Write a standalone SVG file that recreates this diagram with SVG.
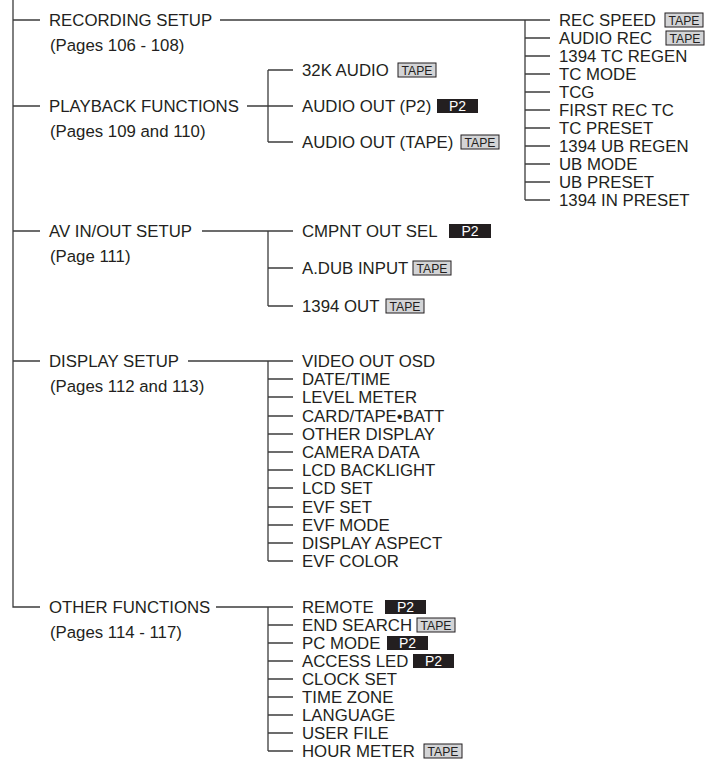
<svg xmlns="http://www.w3.org/2000/svg" width="708" height="761" viewBox="0 0 708 761">
<style>
  .ln{stroke:#3c3c3c;stroke-width:1.3;fill:none}
  .t{font-family:"Liberation Sans",Arial,sans-serif;font-size:16.8px;fill:#231f20}
  .tb{fill:#d3d4d6;stroke:#231f20;stroke-width:1}
  .tt{font-family:"Liberation Sans",Arial,sans-serif;font-size:13px;fill:#231f20;text-anchor:middle}
  .pb{fill:#231f20}
  .pt{font-family:"Liberation Sans",Arial,sans-serif;font-size:14px;fill:#ffffff;text-anchor:middle}
</style>
<rect width="708" height="761" fill="#ffffff"/>

<g id="connectors">
  <path class="ln" d="M13,0 V607 H40"/>
  <path class="ln" d="M13,20 H40 M13,106 H40 M13,231 H40 M13,361 H40"/>
  <path class="ln" d="M220,20 H550 M525,20 V200"/>
  <path class="ln" d="M525,38 H550 M525,56 H550 M525,74 H550 M525,92 H550 M525,110 H550 M525,128 H550 M525,146 H550 M525,164 H550 M525,182 H550 M525,200 H550"/>
  <path class="ln" d="M247,106 H293 M268,70 V142 M268,70 H293 M268,142 H293"/>
  <path class="ln" d="M202,231 H293 M268,231 V306 M268,268 H293 M268,306 H293"/>
  <path class="ln" d="M188,361 H293 M268,361 V561 M268,379 H293 M268,397 H293 M268,416 H293 M268,434 H293 M268,452 H293 M268,470 H293 M268,488 H293 M268,507 H293 M268,525 H293 M268,543 H293 M268,561 H293"/>
  <path class="ln" d="M216,607 H293 M268,607 V751 M268,625 H293 M268,643 H293 M268,661 H293 M268,679 H293 M268,697 H293 M268,715 H293 M268,733 H293 M268,751 H293"/>
</g>

<g id="recording-setup">
  <text class="t" x="49" y="26">RECORDING SETUP</text>
  <text class="t" x="50" y="51">(Pages 106 - 108)</text>
</g>
<g id="recording-items">
  <text class="t" x="559" y="26">REC SPEED</text>
  <rect class="tb" x="665" y="13" width="38" height="14"/><text class="tt" x="684" y="25" textLength="31" lengthAdjust="spacingAndGlyphs">TAPE</text>
  <text class="t" x="559" y="44">AUDIO REC</text>
  <rect class="tb" x="666" y="31" width="38" height="14"/><text class="tt" x="685" y="43" textLength="31" lengthAdjust="spacingAndGlyphs">TAPE</text>
  <text class="t" x="559" y="62">1394 TC REGEN</text>
  <text class="t" x="559" y="80">TC MODE</text>
  <text class="t" x="559" y="98">TCG</text>
  <text class="t" x="559" y="116">FIRST REC TC</text>
  <text class="t" x="559" y="134">TC PRESET</text>
  <text class="t" x="559" y="152">1394 UB REGEN</text>
  <text class="t" x="559" y="170">UB MODE</text>
  <text class="t" x="559" y="188">UB PRESET</text>
  <text class="t" x="559" y="206">1394 IN PRESET</text>
</g>

<g id="playback-functions">
  <text class="t" x="49" y="112">PLAYBACK FUNCTIONS</text>
  <text class="t" x="50" y="137">(Pages 109 and 110)</text>
</g>
<g id="playback-items">
  <text class="t" x="302" y="76">32K AUDIO</text>
  <rect class="tb" x="398" y="63" width="38" height="14"/><text class="tt" x="417" y="75" textLength="31" lengthAdjust="spacingAndGlyphs">TAPE</text>
  <text class="t" x="302" y="112">AUDIO OUT (P2)</text>
  <rect class="pb" x="437" y="99" width="41" height="14"/><text class="pt" x="457.5" y="111.2">P2</text>
  <text class="t" x="302" y="148">AUDIO OUT (TAPE)</text>
  <rect class="tb" x="461" y="135" width="38" height="14"/><text class="tt" x="480" y="147" textLength="31" lengthAdjust="spacingAndGlyphs">TAPE</text>
</g>

<g id="av-inout-setup">
  <text class="t" x="49" y="237">AV IN/OUT SETUP</text>
  <text class="t" x="50" y="262">(Page 111)</text>
</g>
<g id="av-items">
  <text class="t" x="302" y="237">CMPNT OUT SEL</text>
  <rect class="pb" x="449" y="224" width="42" height="14"/><text class="pt" x="470" y="236.2">P2</text>
  <text class="t" x="302" y="274">A.DUB INPUT</text>
  <rect class="tb" x="413" y="261" width="38" height="14"/><text class="tt" x="432" y="273" textLength="31" lengthAdjust="spacingAndGlyphs">TAPE</text>
  <text class="t" x="302" y="312">1394 OUT</text>
  <rect class="tb" x="386" y="299" width="38" height="14"/><text class="tt" x="405" y="311" textLength="31" lengthAdjust="spacingAndGlyphs">TAPE</text>
</g>

<g id="display-setup">
  <text class="t" x="49" y="367">DISPLAY SETUP</text>
  <text class="t" x="50" y="392">(Pages 112 and 113)</text>
</g>
<g id="display-items">
  <text class="t" x="302" y="367">VIDEO OUT OSD</text>
  <text class="t" x="302" y="385">DATE/TIME</text>
  <text class="t" x="302" y="403">LEVEL METER</text>
  <text class="t" x="302" y="422">CARD/TAPE•BATT</text>
  <text class="t" x="302" y="440">OTHER DISPLAY</text>
  <text class="t" x="302" y="458">CAMERA DATA</text>
  <text class="t" x="302" y="476">LCD BACKLIGHT</text>
  <text class="t" x="302" y="494">LCD SET</text>
  <text class="t" x="302" y="513">EVF SET</text>
  <text class="t" x="302" y="531">EVF MODE</text>
  <text class="t" x="302" y="549">DISPLAY ASPECT</text>
  <text class="t" x="302" y="567">EVF COLOR</text>
</g>

<g id="other-functions">
  <text class="t" x="49" y="613">OTHER FUNCTIONS</text>
  <text class="t" x="50" y="638">(Pages 114 - 117)</text>
</g>
<g id="other-items">
  <text class="t" x="302" y="613">REMOTE</text>
  <rect class="pb" x="385" y="600" width="41" height="14"/><text class="pt" x="405.5" y="612.2">P2</text>
  <text class="t" x="302" y="631">END SEARCH</text>
  <rect class="tb" x="417" y="618" width="38" height="14"/><text class="tt" x="436" y="630" textLength="31" lengthAdjust="spacingAndGlyphs">TAPE</text>
  <text class="t" x="302" y="649">PC MODE</text>
  <rect class="pb" x="387" y="636" width="41" height="14"/><text class="pt" x="407.5" y="648.2">P2</text>
  <text class="t" x="302" y="667">ACCESS LED</text>
  <rect class="pb" x="413" y="654" width="41" height="14"/><text class="pt" x="433.5" y="666.2">P2</text>
  <text class="t" x="302" y="685">CLOCK SET</text>
  <text class="t" x="302" y="703">TIME ZONE</text>
  <text class="t" x="302" y="721">LANGUAGE</text>
  <text class="t" x="302" y="739">USER FILE</text>
  <text class="t" x="302" y="757">HOUR METER</text>
  <rect class="tb" x="424" y="744" width="38" height="14"/><text class="tt" x="443" y="756" textLength="31" lengthAdjust="spacingAndGlyphs">TAPE</text>
</g>
</svg>
